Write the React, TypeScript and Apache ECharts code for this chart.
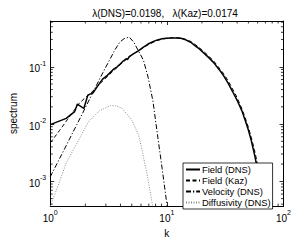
import React, { useEffect, useRef } from "react";
import * as echarts from "echarts";

const titleText = "λ(DNS)=0.0198,   λ(Kaz)=0.0174";
const xAxisName = "k";
const yAxisName = "spectrum";
const seriesNames = ["Field (DNS)", "Field (Kaz)", "Velocity (DNS)", "Diffusivity (DNS)"];

const kField = [1, 1.37, 1.62, 1.71, 1.94, 2.1, 2.33, 2.53, 2.81, 3.09, 3.47, 3.75, 3.95, 4.2, 4.47, 4.6, 4.75, 5.2, 5.7, 6.3, 6.9, 7.6, 8.3, 9.1, 10, 11, 12, 13.2, 14.5, 16, 17.4, 19, 21, 23, 25.3, 28, 30.5, 33.5, 36.6, 40, 44, 47, 50, 53, 56.3, 59, 62, 65, 68, 71];
const eField = [0.0098, 0.0126, 0.0165, 0.0224, 0.0187, 0.032, 0.035, 0.045, 0.061, 0.071, 0.09, 0.1, 0.11, 0.125, 0.138, 0.134, 0.15, 0.17, 0.19, 0.22, 0.25, 0.275, 0.295, 0.308, 0.316, 0.318, 0.318, 0.314, 0.295, 0.268, 0.235, 0.205, 0.17, 0.143, 0.117, 0.09, 0.071, 0.052, 0.037, 0.026, 0.017, 0.0115, 0.0079, 0.0051, 0.003, 0.0019, 0.0011, 0.00068, 0.0004, 0.00024];

const kKaz = [1, 1.2, 1.4, 1.6, 1.77, 2, 2.2, 2.5, 2.8, 3.1, 3.5, 4, 4.5, 5, 5.5, 6, 7, 8, 9, 10, 11, 12, 13.2, 14.5, 16, 17.4, 19, 21, 23, 25.3, 28, 30.5, 33.5, 36.6, 40, 44, 47, 50, 53, 56.3, 59, 62, 65, 68, 71];
const eKaz = [0.0047, 0.0077, 0.0119, 0.0173, 0.023, 0.029, 0.034, 0.044, 0.056, 0.068, 0.086, 0.11, 0.135, 0.16, 0.183, 0.205, 0.245, 0.28, 0.302, 0.315, 0.322, 0.322, 0.318, 0.302, 0.277, 0.247, 0.215, 0.18, 0.152, 0.125, 0.096, 0.077, 0.057, 0.041, 0.029, 0.0185, 0.0128, 0.0088, 0.0058, 0.0036, 0.0023, 0.0014, 0.00085, 0.0005, 0.0003];

const kVel = [1, 1.3, 1.56, 1.88, 2.26, 2.72, 3.28, 3.6, 3.95, 4.3, 4.75, 5.2, 5.7, 6.3, 6.9, 7.6, 8.3, 9.1, 10, 10.5];
const eVel = [0.0012, 0.0034, 0.0071, 0.015, 0.032, 0.068, 0.14, 0.2, 0.27, 0.31, 0.33, 0.27, 0.19, 0.13, 0.066, 0.025, 0.0066, 0.0017, 0.0004, 0.0002];

const kDif = [1, 1.18, 1.37, 1.71, 2.13, 2.63, 3.28, 3.6, 4.1, 4.58, 5.0, 5.7, 6.05, 6.9, 7.55, 7.8];
const eDif = [0.00037, 0.00089, 0.0021, 0.0048, 0.011, 0.017, 0.021, 0.021, 0.019, 0.0147, 0.0117, 0.0066, 0.004, 0.00108, 0.00037, 0.0002];

const xMinorTicks = [2, 3, 4, 5, 6, 7, 8, 9, 20, 30, 40, 50, 60, 70, 80, 90];
const yMinorTicks = [4e-4, 5e-4, 6e-4, 7e-4, 8e-4, 9e-4, 2e-3, 3e-3, 4e-3, 5e-3, 6e-3, 7e-3, 8e-3, 9e-3, 0.02, 0.03, 0.04, 0.05, 0.06, 0.07, 0.08, 0.09, 0.2, 0.3, 0.4, 0.5, 0.6];

const X_MIN = 1;
const X_MAX = 100;
const Y_MIN = 3.7e-4;
const Y_MAX = 0.63;

const zip = (a: number[], b: number[]) => a.map((v, i) => [v, b[i]]);

const FONT = "'Liberation Sans', Arial, Helvetica, sans-serif";

function powLabel(v: number) {
  const e = Math.log10(v);
  const r = Math.round(e);
  if (Math.abs(e - r) > 1e-6) return "";
  return `{b|10}{s|${r}}`;
}

const rich = {
  b: { fontSize: 10, fontFamily: FONT, color: "#000", lineHeight: 14, verticalAlign: "bottom" },
  s: { fontSize: 7, fontFamily: FONT, color: "#000", lineHeight: 14, verticalAlign: "top" },
};

export default function App() {
  const ref = useRef<HTMLDivElement>(null);
  useEffect(() => {
    document.body.style.margin = "0";
    const chart = echarts.init(ref.current as HTMLDivElement, null, { renderer: "svg" });
    const axisLine = { show: true, lineStyle: { color: "#000", width: 1 } };
    const tick = { show: true, inside: true, length: 4, lineStyle: { color: "#000", width: 0.8 } };
    const minorRender = (horizontal: boolean) => (params: any, api: any) => {
      const cs = params.coordSys;
      const p = api.coord([api.value(0), api.value(1)]);
      const st = { stroke: "#000", lineWidth: 0.8 };
      if (horizontal) {
        const b = cs.y + cs.height;
        return {
          type: "group",
          children: [
            { type: "line", shape: { x1: p[0], y1: b, x2: p[0], y2: b - 2.5 }, style: st },
            { type: "line", shape: { x1: p[0], y1: cs.y, x2: p[0], y2: cs.y + 2.5 }, style: st },
          ],
        };
      }
      const r = cs.x + cs.width;
      return {
        type: "group",
        children: [
          { type: "line", shape: { x1: cs.x, y1: p[1], x2: cs.x + 2.5, y2: p[1] }, style: st },
          { type: "line", shape: { x1: r, y1: p[1], x2: r - 2.5, y2: p[1] }, style: st },
        ],
      };
    };
    chart.setOption({
      animation: false,
      backgroundColor: "#fff",
      textStyle: { fontFamily: FONT },
      title: {
        text: titleText,
        left: 160,
        textAlign: "center",
        top: 3,
        textStyle: { fontSize: 10, fontWeight: "normal", color: "#000", fontFamily: FONT },
      },
      grid: { left: 36, right: 10, top: 21, bottom: 28, containLabel: false },
      legend: {
        data: seriesNames,
        orient: "vertical",
        left: 183,
        top: 163,
        itemWidth: 14,
        itemHeight: 10,
        itemGap: 2,
        padding: [2, 2, 2, 2],
        borderColor: "#000",
        borderWidth: 0.8,
        backgroundColor: "#fff",
        itemStyle: { opacity: 0 },
        textStyle: { fontSize: 9.4, color: "#000", fontFamily: FONT, padding: [0, 0, 0, -3] },
      },
      xAxis: [
        {
          type: "log",
          logBase: 10,
          min: X_MIN,
          max: X_MAX,
          position: "bottom",
          axisLine,
          axisTick: tick,
          splitLine: { show: false },
          axisLabel: { formatter: powLabel, rich, margin: 3 },
          name: xAxisName,
          nameLocation: "middle",
          nameGap: 14,
          nameTextStyle: { fontSize: 10, color: "#000", fontFamily: FONT },
        },
        {
          type: "log",
          logBase: 10,
          min: X_MIN,
          max: X_MAX,
          position: "top",
          axisLine,
          axisTick: tick,
          splitLine: { show: false },
          axisLabel: { show: false },
        },
      ],
      yAxis: [
        {
          type: "log",
          logBase: 10,
          min: Y_MIN,
          max: Y_MAX,
          position: "left",
          axisLine,
          axisTick: tick,
          splitLine: { show: false },
          axisLabel: { formatter: powLabel, rich, margin: 4 },
          name: yAxisName,
          nameLocation: "middle",
          nameGap: 24,
          nameTextStyle: { fontSize: 10, color: "#000", fontFamily: FONT },
        },
        {
          type: "log",
          logBase: 10,
          min: Y_MIN,
          max: Y_MAX,
          position: "right",
          axisLine,
          axisTick: tick,
          splitLine: { show: false },
          axisLabel: { show: false },
        },
      ],
      series: [
        {
          name: seriesNames[3],
          type: "line",
          data: zip(kDif, eDif),
          symbol: "none",
          lineStyle: { color: "#8a8a8a", width: 1, type: [1, 1.5] },
          itemStyle: { color: "#8a8a8a" },
        },
        {
          name: seriesNames[2],
          type: "line",
          data: zip(kVel, eVel),
          symbol: "none",
          lineStyle: { color: "#000", width: 1, type: [5, 2, 1.2, 2] },
          itemStyle: { color: "#000" },
        },
        {
          name: seriesNames[1],
          type: "line",
          data: zip(kKaz, eKaz),
          symbol: "none",
          lineStyle: { color: "#000", width: 1, type: [4, 2.5] },
          itemStyle: { color: "#000" },
        },
        {
          name: seriesNames[0],
          type: "line",
          data: zip(kField, eField),
          symbol: "none",
          lineStyle: { color: "#000", width: 1.5, type: "solid" },
          itemStyle: { color: "#000" },
        },
        {
          type: "custom",
          renderItem: minorRender(true),
          data: xMinorTicks.map((v) => [v, 0.01]),
          silent: true,
          z: 1,
        },
        {
          type: "custom",
          renderItem: minorRender(false),
          data: yMinorTicks.map((v) => [2, v]),
          silent: true,
          z: 1,
        },
      ],
    });
    return () => chart.dispose();
  }, []);
  return <div ref={ref} style={{ width: 294, height: 243 }} />;
}
